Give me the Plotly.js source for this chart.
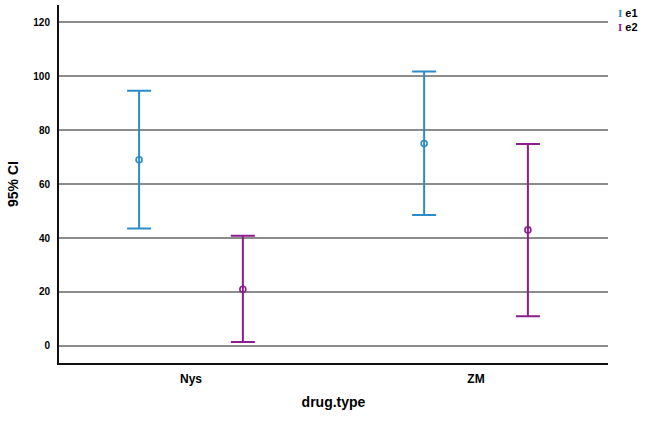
<!DOCTYPE html>
<html>
<head>
<meta charset="utf-8">
<script src="https://cdn.plot.ly/plotly-3.0.1.min.js"></script>
<style>
  html, body { margin: 0; padding: 0; background: #fff; }
  #myPlot { width: 651px; height: 421px; }
</style>
</head>
<body>
<div id="myPlot"></div>
<script>
// categories and 95% CI values
const categories = ['Nys', 'ZM'];
const e1Mean = [69, 75];
const e1Upper = [94.5, 101.7];
const e1Lower = [43.5, 48.5];
const e2Mean = [21, 43];
const e2Upper = [40.8, 74.8];
const e2Lower = [1.5, 11];

const graph_div_id = 'myPlot';
const offset = 0.182;

function ciTrace(name, mean, upper, lower, shift, color) {
    return {
        name: name,
        type: 'scatter',
        mode: 'markers',
        x: categories.map((c, i) => i + shift),
        y: mean,
        marker: { symbol: 'circle-open', size: 6, color: color, line: { width: 1.6, color: color } },
        error_y: {
            type: 'data',
            symmetric: false,
            array: upper.map((u, i) => u - mean[i]),
            arrayminus: lower.map((l, i) => mean[i] - l),
            color: color,
            thickness: 2,
            width: 12
        },
        hoverinfo: 'x+y'
    };
}

const data = [
    ciTrace('e1', e1Mean, e1Upper, e1Lower, -offset, '#2b8cc8'),
    ciTrace('e2', e2Mean, e2Upper, e2Lower, offset, '#8c1d8a')
];

const tickFont = { family: 'Liberation Sans, Arial, sans-serif', size: 10, color: '#000', weight: 'bold' };

const layout = {
    width: 651,
    height: 421,
    margin: { l: 59, r: 43, t: 5, b: 58 },
    paper_bgcolor: '#fff',
    plot_bgcolor: '#fff',
    showlegend: false,
    xaxis: {
        range: [-0.463, 1.463],
        tickvals: [0, 1],
        ticktext: categories,
        showgrid: false,
        zeroline: false,
        showline: true,
        linecolor: '#111',
        linewidth: 2,
        ticks: 'outside',
        ticklen: 4,
        tickcolor: 'rgba(0,0,0,0)',
        tickfont: { family: 'Liberation Sans, Arial, sans-serif', size: 12, color: '#000', weight: 'bold' },
        title: { text: 'drug.type', standoff: 12, font: { family: 'Liberation Sans, Arial, sans-serif', size: 14, color: '#000', weight: 'bold' } }
    },
    yaxis: {
        range: [-6.3, 126.3],
        tickvals: [0, 20, 40, 60, 80, 100, 120],
        showgrid: true,
        gridcolor: '#8c8c8c',
        gridwidth: 1.5,
        zeroline: false,
        showline: true,
        linecolor: '#111',
        linewidth: 2,
        ticks: 'outside',
        ticklen: 5,
        tickcolor: 'rgba(0,0,0,0)',
        tickfont: tickFont,
        title: { text: '95% CI', standoff: 11, font: { family: 'Liberation Sans, Arial, sans-serif', size: 14, color: '#000', weight: 'bold' } }
    },
    annotations: [
        { xref: 'paper', yref: 'paper', x: 1.014, y: 0.978, xanchor: 'left', yanchor: 'middle', showarrow: false,
          text: '<span style="color:#2b8cc8;font-family:Liberation Serif">I</span> e1', font: { family: 'Liberation Sans, Arial, sans-serif', size: 11, color: '#000', weight: 'bold' } },
        { xref: 'paper', yref: 'paper', x: 1.014, y: 0.939, xanchor: 'left', yanchor: 'middle', showarrow: false,
          text: '<span style="color:#8c1d8a;font-family:Liberation Serif">I</span> e2', font: { family: 'Liberation Sans, Arial, sans-serif', size: 11, color: '#000', weight: 'bold' } }
    ]
};

window.onload = function () {
    Plotly.newPlot(graph_div_id, data, layout, { displayModeBar: false });
}
</script>
</body>
</html>
